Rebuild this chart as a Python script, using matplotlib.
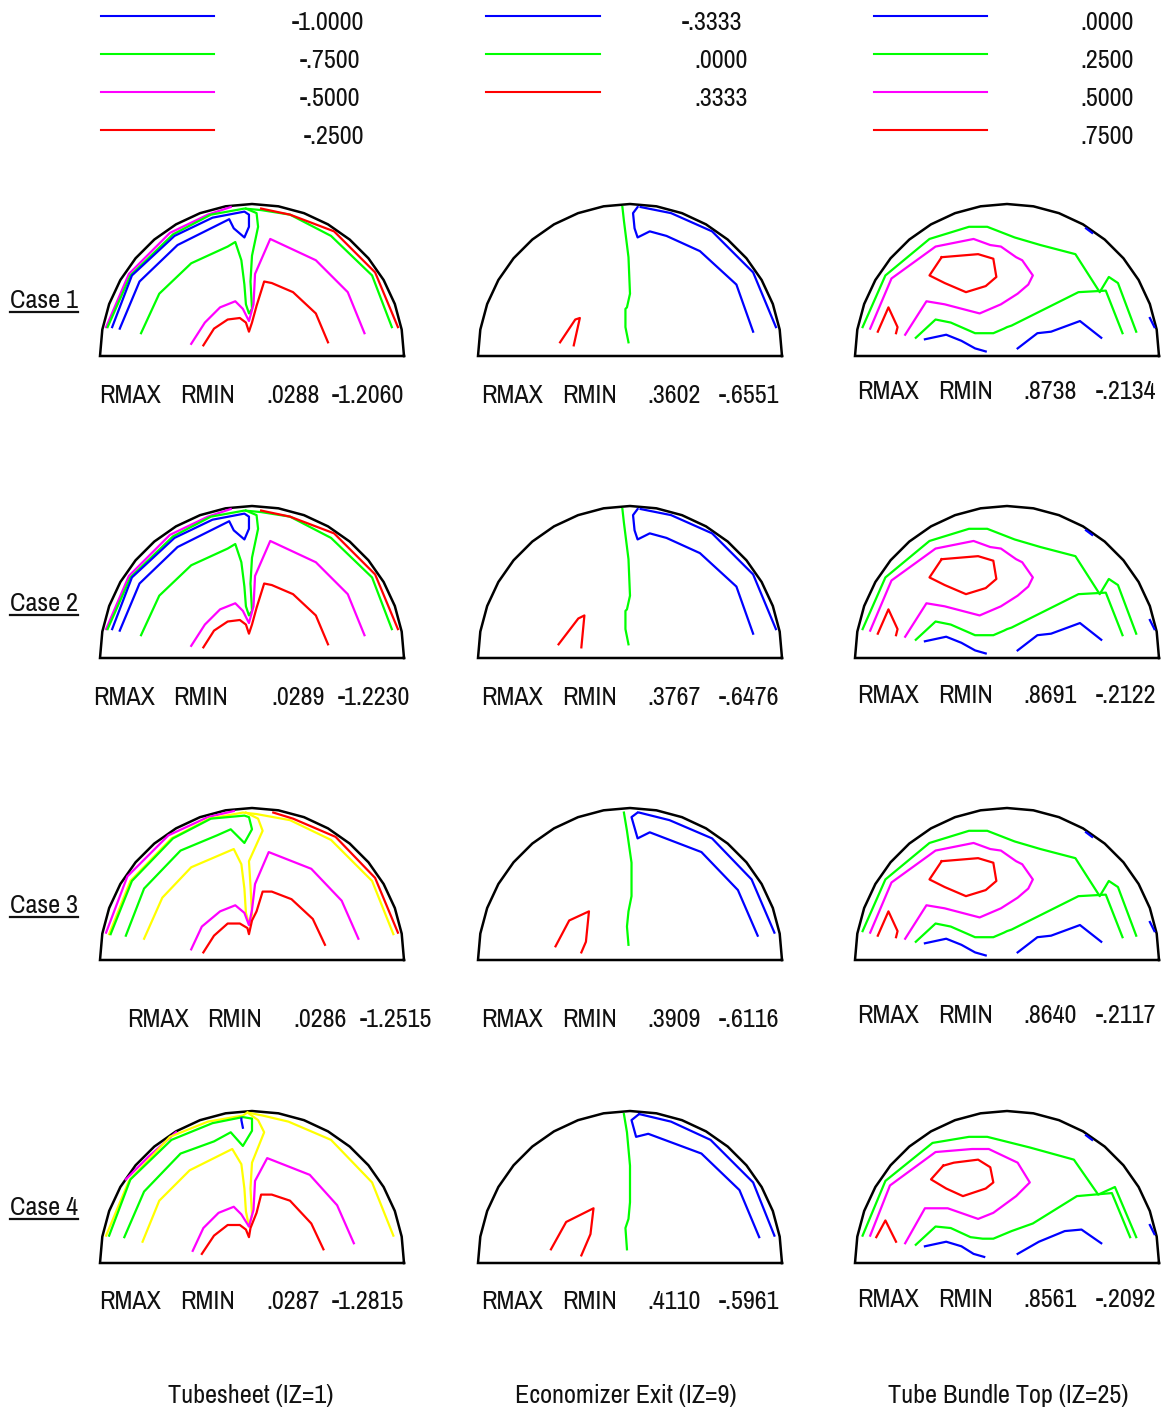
import numpy as np
import matplotlib
matplotlib.use("Agg")
import matplotlib.pyplot as plt
from matplotlib.lines import Line2D
from matplotlib import font_manager as fm

# --------------------------
# DATA
# --------------------------
# contour polylines in units of percent of the radius (x -100..100, y 0..100)
# each entry: (level index, [(x, y), ...])
# level index -> 0 blue, 1 green, 2 magenta, 3 red, 4 yellow

TUBESHEET_CASE1 = [
    (2, [(-96, 19), (-81, 54), (-54, 81), (-29, 93), (-14, 98)]),
    (1, [(-95, 19), (-80, 53), (-52, 80), (-27, 93), (-5, 97), (6, 96), (25, 93), (52, 79), (79, 53), (92, 19)]),
    (1, [(-73, 15), (-61, 41), (-40, 61), (-16, 72), (-11, 75), (-7, 63), (-5, 47), (-4, 34), (-2, 28), (0, 31),
         (-1, 49), (0, 66), (4, 85), (3, 94), (-4, 97)]),
    (0, [(-92, 19), (-79, 53), (-51, 79), (-26, 91), (-5, 95), (-2, 93), (-2, 85), (-5, 78), (-12, 84), (-15, 90),
         (-49, 73), (-74, 49), (-87, 18)]),
    (2, [(-40, 8), (-31, 22), (-21, 32), (-11, 36), (-6, 31), (-2, 23), (1, 34), (2, 54), (12, 77), (42, 63),
         (63, 42), (74, 15)]),
    (3, [(-32, 7), (-25, 18), (-16, 24), (-8, 25), (-4, 22), (-2, 16), (0, 22), (3, 33), (8, 49), (13, 48),
         (27, 42), (42, 28), (50, 9)]),
    (3, [(6, 97), (25, 93), (54, 82), (81, 55), (96, 19)]),
]

TUBESHEET_CASE3 = [
    (2, [(-96, 18), (-82, 55), (-55, 82), (-29, 94), (-12, 98)]),
    (4, [(-94, 17), (-80, 52), (-53, 80), (-28, 93), (-6, 97), (3, 96), (25, 92), (52, 79), (79, 52), (93, 17)]),
    (4, [(-71, 14), (-59, 41), (-40, 61), (-12, 73), (-7, 63), (-5, 47), (-4, 31), (-2, 24), (0, 30), (-1, 49),
         (-2, 65), (7, 85), (4, 93), (-4, 97)]),
    (1, [(-93, 17), (-79, 52), (-52, 80), (-27, 93), (-5, 95), (-2, 94), (0, 86), (-5, 77), (-14, 86), (-23, 82),
         (-47, 72), (-71, 47), (-83, 16)]),
    (2, [(-40, 7), (-33, 22), (-21, 32), (-11, 36), (-5, 31), (-2, 23), (0, 33), (2, 50), (11, 71), (39, 60),
         (59, 39), (70, 14)]),
    (3, [(-32, 5), (-25, 16), (-16, 24), (-8, 24), (-3, 21), (-2, 17), (0, 26), (3, 32), (7, 45), (13, 45),
         (26, 40), (40, 27), (48, 10)]),
    (3, [(14, 97), (27, 93), (55, 81), (81, 54), (96, 18)]),
]

TUBESHEET_CASE4 = [
    (2, [(-83, 55), (-68, 70), (-50, 86)]),
    (4, [(-96, 18), (-81, 54), (-54, 83), (-29, 93), (-6, 97), (-3, 99), (7, 97), (24, 93), (52, 81), (79, 53),
         (93, 18)]),
    (4, [(-72, 14), (-61, 41), (-41, 61), (-13, 75), (-7, 65), (-5, 49), (-4, 34), (-2, 24), (0, 32), (-1, 49),
         (0, 66), (8, 86), (4, 94), (-3, 99)]),
    (1, [(-94, 18), (-80, 55), (-53, 81), (-26, 92), (-6, 96), (0, 95), (0, 87), (-6, 77), (-14, 86), (-25, 80),
         (-47, 72), (-71, 47), (-84, 17)]),
    (0, [(-7, 95), (-7, 94), (-6, 89)]),
    (2, [(-39, 8), (-32, 23), (-22, 33), (-12, 37), (-7, 32), (-2, 24), (1, 35), (2, 54), (10, 69), (38, 58),
         (56, 38), (67, 13)]),
    (3, [(-33, 6), (-25, 18), (-16, 25), (-8, 25), (-4, 22), (-2, 17), (-1, 23), (3, 33), (6, 45), (13, 45),
         (25, 41), (39, 26), (47, 9)]),
]

EXIT_CASE1 = [
    (1, [(-5, 98), (-4, 89), (-1, 65), (0, 41), (-2, 32), (-3, 31), (-3, 19), (-1, 9)]),
    (0, [(5, 98), (2, 94), (3, 84), (5, 78), (13, 82), (24, 79), (46, 69), (70, 47), (81, 16)]),
    (0, [(7, 98), (27, 94), (54, 82), (81, 55), (96, 19)]),
    (3, [(-46, 9), (-36, 24), (-33, 25), (-35, 16), (-37, 7)]),
]

EXIT_CASE2 = [
    (1, [(-5, 98), (-4, 89), (-1, 65), (0, 41), (-2, 32), (-3, 31), (-3, 19), (-1, 9)]),
    (0, [(5, 98), (2, 94), (3, 84), (5, 78), (13, 82), (24, 79), (46, 69), (70, 47), (81, 16)]),
    (0, [(7, 98), (27, 94), (54, 82), (81, 55), (96, 19)]),
    (3, [(-47, 9), (-34, 26), (-30, 28), (-32, 7)]),
]

EXIT_CASE3 = [
    (1, [(-4, 97), (-2, 85), (1, 64), (1, 42), (-1, 32), (-2, 22), (-1, 10)]),
    (0, [(5, 97), (1, 94), (5, 80), (13, 84), (47, 71), (71, 46), (84, 16)]),
    (0, [(6, 97), (26, 92), (54, 80), (80, 53), (95, 18)]),
    (3, [(-49, 9), (-40, 26), (-27, 32), (-29, 12), (-32, 5)]),
]

EXIT_CASE4 = [
    (1, [(-4, 98), (-2, 86), (0, 64), (0, 40), (-1, 29), (-3, 23), (-2, 9)]),
    (0, [(6, 98), (1, 94), (4, 83), (12, 85), (47, 72), (72, 48), (85, 17)]),
    (0, [(6, 98), (27, 93), (53, 81), (81, 53), (95, 18)]),
    (3, [(-52, 9), (-42, 27), (-24, 36), (-26, 19), (-32, 5)]),
]

BUNDLE_CASE1 = [
    (1, [(-95, 19), (-80, 53), (-51, 77), (-25, 85), (-13, 85), (5, 78), (22, 73), (45, 67), (61, 42), (67, 52),
         (73, 48), (85, 16)]),
    (1, [(-60, 12), (-47, 24), (-37, 22), (-21, 15), (-9, 15), (-2, 18), (0, 19), (3, 20), (7, 22), (25, 31),
         (47, 42), (65, 43), (76, 15)]),
    (2, [(-90, 18), (-76, 51), (-47, 72), (-22, 77), (-11, 73), (-4, 72), (6, 65), (10, 63), (17, 53), (14, 47),
         (7, 41), (-4, 34), (-18, 28), (-41, 34), (-53, 36), (-67, 14)]),
    (3, [(-43, 65), (-19, 67), (-9, 64), (-7, 52), (-14, 46), (-27, 42), (-41, 48), (-51, 53), (-43, 65)]),
    (3, [(-85, 16), (-78, 32), (-72, 19), (-73, 15)]),
    (0, [(-54, 11), (-40, 14), (-30, 10), (-21, 5), (-14, 3)]),
    (0, [(7, 5), (20, 15), (29, 16), (48, 23), (62, 12)]),
    (0, [(52, 84), (56, 81)]),
    (0, [(94, 25), (97, 19)]),
]

BUNDLE_CASE4 = [
    (1, [(-95, 18), (-80, 54), (-49, 79), (-25, 83), (-13, 83), (15, 76), (44, 68), (60, 45), (71, 50), (85, 17)]),
    (1, [(-60, 12), (-47, 24), (-37, 23), (-24, 17), (-16, 16), (-9, 16), (3, 21), (17, 26), (46, 44), (69, 46),
         (81, 17)]),
    (2, [(-90, 18), (-77, 51), (-47, 73), (-23, 75), (-12, 75), (7, 66), (15, 53), (6, 44), (-9, 33), (-19, 29),
         (-39, 36), (-54, 36), (-67, 13)]),
    (3, [(-42, 64), (-35, 66), (-19, 68), (-11, 63), (-9, 53), (-14, 49), (-29, 44), (-40, 49), (-50, 55),
         (-42, 64)]),
    (3, [(-86, 17), (-80, 28), (-73, 14)]),
    (0, [(-54, 11), (-40, 14), (-30, 11), (-22, 6), (-15, 4)]),
    (0, [(7, 6), (21, 14), (38, 21), (49, 22), (62, 13)]),
    (0, [(52, 84), (56, 81)]),
    (0, [(94, 25), (97, 19)]),
]

# panels by row (case) and column (location)
PANELS = [
    [TUBESHEET_CASE1, EXIT_CASE1, BUNDLE_CASE1],
    [TUBESHEET_CASE1, EXIT_CASE2, BUNDLE_CASE1],
    [TUBESHEET_CASE3, EXIT_CASE3, BUNDLE_CASE1],
    [TUBESHEET_CASE4, EXIT_CASE4, BUNDLE_CASE4],
]

RMAX_RMIN = [
    [(".0288", "-1.2060"), (".3602", "-.6551"), (".8738", "-.2134")],
    [(".0289", "-1.2230"), (".3767", "-.6476"), (".8691", "-.2122")],
    [(".0286", "-1.2515"), (".3909", "-.6116"), (".8640", "-.2117")],
    [(".0287", "-1.2815"), (".4110", "-.5961"), (".8561", "-.2092")],
]

CASE_LABELS = ["Case 1", "Case 2", "Case 3", "Case 4"]
COLUMN_TITLES = ["Tubesheet (IZ=1)", "Economizer Exit (IZ=9)", "Tube Bundle Top (IZ=25)"]

LEGEND_LEVELS = [
    ["-1.0000", "-.7500", "-.5000", "-.2500"],
    ["-.3333", ".0000", ".3333"],
    [".0000", ".2500", ".5000", ".7500"],
]

# --------------------------
# FONT: pick a narrow sans if one is installed
# --------------------------
FS = 18.8
candidates = []
for f in fm.fontManager.ttflist:
    name = f.name + " " + str(f.fname)
    if f.style != "normal" or f.weight not in ("normal", "regular", 400):
        continue
    if "Narrow" in name:
        candidates.append((0, f.fname))
    elif "Condensed" in name or "condensed" in str(f.stretch):
        if "Bold" in name or "Light" in name or "Oblique" in name or "Italic" in name:
            continue
        candidates.append((1, f.fname))
candidates.sort()
if candidates:
    font_prop = fm.FontProperties(fname=candidates[0][1], size=FS)
else:
    font_prop = fm.FontProperties(family=["Liberation Sans", "DejaVu Sans"], size=FS * 0.78)

# --------------------------
# STYLE / LAYOUT
# --------------------------
LEVEL_COLORS = ["#0000ff", "#00ff00", "#ff00ff", "#ff0000", "#ffff00"]
W, H = 1166, 1414
COL_CX = [252, 630, 1007]
ROW_BASE = [356, 658, 960, 1263]
R = 152

fig = plt.figure(figsize=(W / 100, H / 100), dpi=100)


def ftext(x, y, s, ha="left"):
    return fig.text(x / W, 1 - y / H, s, ha=ha, va="baseline", fontproperties=font_prop, color="#111111")


def fline(x0, x1, y, color, lw=1.5):
    fig.add_artist(Line2D([x0 / W, x1 / W], [1 - y / H, 1 - y / H], color=color, lw=lw,
                          transform=fig.transFigure))


def make_axes(cx, base):
    ax = fig.add_axes([(cx - 1.05 * R) / W, (H - base - 0.05 * R) / H, 2.1 * R / W, 1.1 * R / H])
    ax.set_xlim(-105, 105)
    ax.set_ylim(-5, 105)
    ax.axis("off")
    return ax


# half-circle outline (polygon like the original plotter output)
theta = np.linspace(0, np.pi, 19)
outline_x = np.r_[100 * np.cos(theta), 100]
outline_y = np.r_[100 * np.sin(theta), 0]

for r, row in enumerate(PANELS):
    for c, lines in enumerate(row):
        ax = make_axes(COL_CX[c], ROW_BASE[r])
        ax.plot(outline_x, outline_y, color="black", lw=1.8, solid_joinstyle="miter")
        for level, pts in lines:
            pts = np.array(pts, dtype=float)
            ax.plot(pts[:, 0], pts[:, 1], color=LEVEL_COLORS[level], lw=1.6)

# --------------------------
# LEGEND
# --------------------------
legend_x = [(101, 214, [364, 360, 360, 364]),
            (486, 600, [742, 748, 748]),
            (874, 987, [1134, 1134, 1134, 1134])]
legend_y = [16, 54, 92, 130]
for c, labels in enumerate(LEGEND_LEVELS):
    x0, x1, rights = legend_x[c]
    for i, lab in enumerate(labels):
        color = LEVEL_COLORS[3] if (c == 1 and i == 2) else LEVEL_COLORS[i]
        fline(x0, x1, legend_y[i], color)
        ftext(rights[i], legend_y[i] + 14, lab, ha="right")

# --------------------------
# RMAX / RMIN TEXT
# --------------------------
rm_x = [
    [(99, 180, 266, 404), (93, 173, 271, 410), (127, 207, 293, 432), (99, 180, 266, 404)],
    [(481, 562, 647, 779)] * 4,
    [(857, 938, 1023, 1156)] * 4,
]
rm_y = [[403, 705, 1027, 1309], [403, 705, 1027, 1309], [399, 703, 1023, 1307]]
for r in range(4):
    for c in range(3):
        xa, xb, xc, xd = rm_x[c][r]
        y = rm_y[c][r]
        vmax, vmin = RMAX_RMIN[r][c]
        ftext(xa, y, "RMAX")
        ftext(xb, y, "RMIN")
        ftext(xc, y, vmax)
        ftext(xd, y, vmin, ha="right")

# --------------------------
# CASE LABELS (underlined) AND COLUMN TITLES
# --------------------------
case_y = [308, 611, 913, 1215]
renderer = fig.canvas.get_renderer()
for lab, y in zip(CASE_LABELS, case_y):
    t = ftext(10, y, lab)
    bb = t.get_window_extent(renderer)
    fline(bb.x0, bb.x1, y + 4, "#111111", lw=1.6)

for title, cx in zip(COLUMN_TITLES, [251, 626, 1008]):
    ftext(cx, 1403, title, ha="center")

fig.savefig("out.png", dpi=100)
